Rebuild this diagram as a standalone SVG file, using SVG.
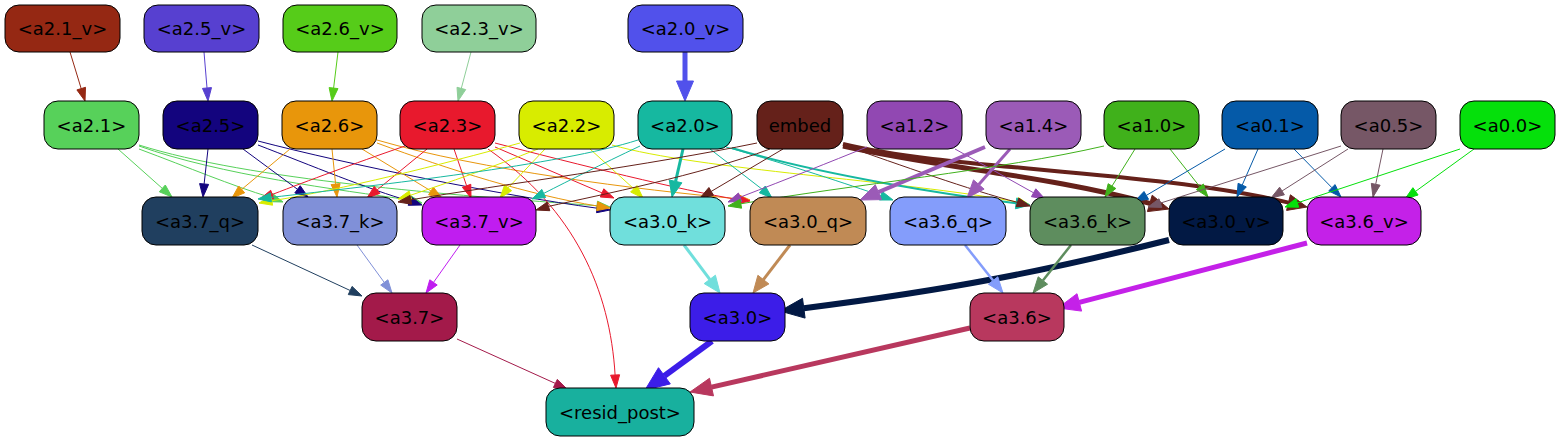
<svg xmlns="http://www.w3.org/2000/svg" width="1561" height="443" viewBox="0 0 1561 443">
<style>
text{font-family:"DejaVu Sans","Liberation Sans",sans-serif;font-size:18px;text-anchor:middle;fill:#000}
.node rect{stroke:#000;stroke-width:1}
#edges path{fill:none}
.c21v{stroke:#952813;fill:#952813}
.c25v{stroke:#5740d0;fill:#5740d0}
.c26v{stroke:#56cc19;fill:#56cc19}
.c23v{stroke:#8fcf99;fill:#8fcf99}
.c20v{stroke:#5151eb;fill:#5151eb}
.c21{stroke:#57d15a;fill:#57d15a}
.c25{stroke:#13047e;fill:#13047e}
.c26{stroke:#e8960b;fill:#e8960b}
.c23{stroke:#e8192d;fill:#e8192d}
.c22{stroke:#d8ec00;fill:#d8ec00}
.c20{stroke:#16b8a0;fill:#16b8a0}
.cem{stroke:#65211a;fill:#65211a}
.c12{stroke:#9148b2;fill:#9148b2}
.c14{stroke:#9b5bb7;fill:#9b5bb7}
.c10{stroke:#40b11b;fill:#40b11b}
.c01{stroke:#055aa8;fill:#055aa8}
.c05{stroke:#765766;fill:#765766}
.c00{stroke:#05e00b;fill:#05e00b}
.c37q{stroke:#203f5f;fill:#203f5f}
.c37k{stroke:#8090d8;fill:#8090d8}
.c37v{stroke:#c01df0;fill:#c01df0}
.c30k{stroke:#70dfdc;fill:#70dfdc}
.c30q{stroke:#c08a55;fill:#c08a55}
.c30v{stroke:#021944;fill:#021944}
.c36q{stroke:#849dfb;fill:#849dfb}
.c36k{stroke:#5e8d5e;fill:#5e8d5e}
.c36v{stroke:#c421e8;fill:#c421e8}
.c37{stroke:#a31a4a;fill:#a31a4a}
.c30{stroke:#3c1de8;fill:#3c1de8}
.c36{stroke:#b8385e;fill:#b8385e}
</style>
<g id="edges" stroke-width="1">
<path class="c21v" d="M70,52 L81.2,88.6"/><polygon class="c21v" points="85,101 85.5,87.3 76.9,89.9"/>
<path class="c25v" d="M204,52 L207,88"/><polygon class="c25v" points="208,101 211.5,87.6 202.5,88.4"/>
<path class="c26v" d="M338,52 L333.6,88.1"/><polygon class="c26v" points="332,101 338,88.6 329.1,87.6"/>
<path class="c23v" d="M471,52 L461.3,88.4"/><polygon class="c23v" points="458,101 465.7,89.6 457,87.3"/>
<path class="c20v" stroke-width="5" d="M685,52 L685,82"/><polygon class="c20v" points="685,101 693.5,81 676.5,81"/>

<path class="c21" d="M118,149 L162.3,188.4"/><polygon class="c21" points="172,197 165.3,185 159.3,191.8"/>
<path class="c21" d="M139,149 C190,168 230,185 270.8,197.5"/><polygon class="c21" points="283,202 272.3,193.3 269.2,201.7"/>
<path class="c21" d="M139,146 C220,175 340,190 409.4,199.9"/><polygon class="c21" points="422,203 410.5,195.5 408.3,204.3"/>
<path class="c21" d="M139,145 C250,180 450,195 597.1,205.7"/><polygon class="c21" points="610,207 597.5,201.2 596.6,210.2"/>

<path class="c25" d="M208,149 L204.1,184"/><polygon class="c25" points="203,197 208.6,184.4 199.6,183.6"/>
<path class="c25" d="M243,149 L297.5,189.3"/><polygon class="c25" points="308,197 300.2,185.7 294.8,192.9"/>
<path class="c25" d="M258,145 C310,165 370,190 409.6,201"/><polygon class="c25" points="422,205 411,196.7 408.2,205.3"/>
<path class="c25" d="M258,141 C350,165 500,195 597.1,208.2"/><polygon class="c25" points="610,210 597.7,203.7 596.5,212.7"/>

<path class="c26" d="M377,143 C450,170 530,195 597.2,206"/><polygon class="c26" points="610,208 597.8,201.7 596.6,210.6"/>
<path class="c26" d="M290,149 L241.7,189.4"/><polygon class="c26" points="232,198 244.7,192.8 238.7,186"/>
<path class="c26" d="M332,149 L335.6,184.1"/><polygon class="c26" points="337,197 340.1,183.6 331.1,184.6"/>
<path class="c26" d="M362,149 L431,191"/><polygon class="c26" points="442,198 433.4,187.2 428.6,194.8"/>
<path class="c26" d="M377,140 C480,170 640,190 737.1,198.7"/><polygon class="c26" points="750,200 737.6,194.2 736.6,203.2"/>

<path class="c23" d="M405,146 C350,165 310,180 272.2,194.5"/><polygon class="c23" points="260,199 273.8,198.7 270.7,190.3"/>
<path class="c23" d="M427,149 L377.1,189.9"/><polygon class="c23" points="367,198 379.9,193.4 374.3,186.4"/>
<path class="c23" d="M454,149 L466.6,185.8"/><polygon class="c23" points="471,198 470.8,184.3 462.4,187.3"/>
<path class="c23" d="M495,147 L602,192.9"/><polygon class="c23" points="614,198 603.8,188.8 600.3,197"/>
<path class="c23" d="M495,143 C580,165 680,190 737.5,199.5"/><polygon class="c23" points="750,201 738.2,195.1 736.8,204"/>
<path class="c23" d="M488,149 C575,210 610,290 615.1,375"/><polygon class="c23" points="616,388 619.6,374.8 610.6,375.2"/>

<path class="c22" d="M520,143 C440,165 340,190 271.8,200.8"/><polygon class="c22" points="259,203 272.6,205.2 271,196.4"/>
<path class="c22" d="M538,149 C490,168 450,182 410.4,195.3"/><polygon class="c22" points="398,199 411.7,199.6 409.1,191"/>
<path class="c22" d="M545,149 L508.1,187.9"/><polygon class="c22" points="500,198 511.6,190.7 504.6,185.1"/>
<path class="c22" d="M590,149 L633.8,188.8"/><polygon class="c22" points="643,198 637,185.6 630.6,192"/>
<path class="c22" d="M612,145 C700,170 900,180 1017.4,202"/><polygon class="c22" points="1030,205 1018.4,197.6 1016.4,206.4"/>

<path class="c20" d="M638,140 C560,165 380,185 270.9,197.4"/><polygon class="c20" points="258,199 271.4,201.9 270.4,192.9"/>
<path class="c20" d="M640,146 C600,165 570,180 543.7,193.4"/><polygon class="c20" points="532,199 545.6,197.5 541.8,189.4"/>
<path class="c20" stroke-width="3" d="M683,149 L675.6,181.4"/><polygon class="c20" points="672,197 681.9,182.8 669.3,180"/>
<path class="c20" d="M710,149 L762.3,189.4"/><polygon class="c20" points="772,198 765.3,186 759.3,192.8"/>
<path class="c20" d="M726,147 C790,165 850,185 880.8,195.7"/><polygon class="c20" points="893,200 882.3,191.5 879.3,200"/>
<path class="c20" stroke-width="2" d="M732,148 C820,175 950,195 1016.1,203.3"/><polygon class="c20" points="1030,205 1016.8,197.9 1015.4,208.8"/>

<path class="cem" d="M757,143 C650,165 500,185 410.8,199.8"/><polygon class="cem" points="398,202 411.6,204.2 410,195.4"/>
<path class="cem" d="M770,149 C700,175 600,195 548.5,206.4"/><polygon class="cem" points="536,210 549.8,210.7 547.2,202.1"/>
<path class="cem" d="M783,149 L711.2,191.4"/><polygon class="cem" points="700,198 713.5,195.3 708.9,187.5"/>
<path class="cem" d="M843,145 C900,165 970,190 1017.5,202.4"/><polygon class="cem" points="1030,206 1018.8,198.1 1016.2,206.7"/>
<path class="cem" stroke-width="5" d="M843,146 C940,168 1050,176 1149.8,203.4"/><polygon class="cem" points="1169,209 1152.2,195.2 1147.4,211.6"/>
<path class="cem" stroke-width="4" d="M843,144 C950,170 1150,170 1288.5,202.6"/><polygon class="cem" points="1307,207 1290.4,194.8 1286.6,210.4"/>

<path class="c12" d="M867,147 C830,162 790,178 740.1,197.2"/><polygon class="c12" points="728,202 741.8,201.4 738.4,193"/>
<path class="c12" d="M955,149 L1033.6,192.8"/><polygon class="c12" points="1045,199 1035.8,188.8 1031.4,196.7"/>
<path class="c14" stroke-width="4" d="M985,147 L878.4,192.2"/><polygon class="c14" points="860,200 881.5,199.6 875.3,184.8"/>
<path class="c14" stroke-width="3" d="M1010,149 L978.8,184.5"/><polygon class="c14" points="967,198 984.1,189.1 973.5,179.9"/>

<path class="c10" d="M1104,146 C1000,170 850,185 740.8,203.8"/><polygon class="c10" points="728,206 741.6,208.2 740,199.4"/>
<path class="c10" d="M1135,149 L1112,186.1"/><polygon class="c10" points="1105,197 1115.8,188.5 1108.2,183.7"/>
<path class="c10" d="M1170,149 L1199.9,186.8"/><polygon class="c10" points="1208,197 1203.4,184 1196.4,189.6"/>

<path class="c01" d="M1225,149 L1146.3,195.4"/><polygon class="c01" points="1135,201 1148.6,199.3 1144,191.5"/>
<path class="c01" d="M1258,149 L1242.2,185.1"/><polygon class="c01" points="1237,197 1246.3,186.9 1238.1,183.3"/>
<path class="c01" d="M1294,149 L1331.9,187.7"/><polygon class="c01" points="1341,197 1335.1,184.6 1328.7,190.9"/>

<path class="c05" d="M1341,146 L1160.4,203.1"/><polygon class="c05" points="1148,207 1161.8,207.4 1159,198.8"/>
<path class="c05" d="M1348,149 L1282,191"/><polygon class="c05" points="1271,198 1284.4,194.8 1279.6,187.2"/>
<path class="c05" d="M1383,149 L1375.7,184.3"/><polygon class="c05" points="1373,197 1380.1,185.2 1371.3,183.4"/>

<path class="c00" d="M1460,149 L1297.3,202.9"/><polygon class="c00" points="1285,207 1298.7,207.2 1295.9,198.6"/>
<path class="c00" d="M1474,149 L1415.5,191.4"/><polygon class="c00" points="1405,199 1418.1,195 1412.9,187.7"/>

<path class="c37q" d="M252,245 L350.2,290.5"/><polygon class="c37q" points="362,296 352.1,286.4 348.3,294.6"/>
<path class="c37k" d="M357,245 L384.3,282.5"/><polygon class="c37k" points="392,293 387.9,279.8 380.7,285.1"/>
<path class="c37v" d="M460,245 L433.5,282.4"/><polygon class="c37v" points="426,293 437.2,285 429.8,279.8"/>
<path class="c30k" stroke-width="3" d="M684,245 L709.8,279.4"/><polygon class="c30k" points="720,293 715.4,275.2 704.2,283.6"/>
<path class="c30q" stroke-width="3" d="M790,245 L763.4,279.6"/><polygon class="c30q" points="753,293 768.9,283.9 757.9,275.3"/>
<path class="c30v" stroke-width="6" d="M1169,240 C1050,270 950,290 803.8,308.2"/><polygon class="c30v" points="780,311 805.1,318.1 802.5,298.3"/>
<path class="c36q" stroke-width="2.5" d="M965,245 L993.1,280.5"/><polygon class="c36q" points="1003,293 997.8,276.8 988.4,284.2"/>
<path class="c36k" stroke-width="2.5" d="M1071,245 L1042.9,280.5"/><polygon class="c36k" points="1033,293 1047.6,284.2 1038.2,276.8"/>
<path class="c36v" stroke-width="5" d="M1307,243 L1079.3,302.4"/><polygon class="c36v" points="1058,308 1081.6,311.1 1077,293.7"/>

<path class="c37" d="M457,339 L555.3,383.4"/><polygon class="c37" points="567,389 557.3,379.4 553.4,387.5"/>
<path class="c30" stroke-width="6" d="M712,341 L664.4,375.8"/><polygon class="c30" points="645,390 670.3,383.9 658.5,367.7"/>
<path class="c36" stroke-width="5" d="M970,328 L711.5,387.1"/><polygon class="c36" points="690,392 713.5,395.9 709.5,378.3"/>
</g>

<g id="a2.1_v" class="node"><rect x="5" y="5" width="115" height="47" rx="14" fill="#952813"/><text x="62.5" y="35">&lt;a2.1_v&gt;</text></g>
<g id="a2.5_v" class="node"><rect x="144" y="5" width="115" height="47" rx="14" fill="#5740d0"/><text x="201.5" y="35">&lt;a2.5_v&gt;</text></g>
<g id="a2.6_v" class="node"><rect x="283" y="5" width="114" height="47" rx="14" fill="#56cc19"/><text x="340" y="35">&lt;a2.6_v&gt;</text></g>
<g id="a2.3_v" class="node"><rect x="422" y="5" width="114" height="47" rx="14" fill="#8fcf99"/><text x="479" y="35">&lt;a2.3_v&gt;</text></g>
<g id="a2.0_v" class="node"><rect x="628" y="5" width="115" height="47" rx="14" fill="#5151eb"/><text x="685.5" y="35">&lt;a2.0_v&gt;</text></g>

<g id="a2.1" class="node"><rect x="44" y="101" width="95" height="48" rx="14" fill="#57d15a"/><text x="91.5" y="131.5">&lt;a2.1&gt;</text></g>
<g id="a2.5" class="node"><rect x="163" y="101" width="95" height="48" rx="14" fill="#13047e"/><text x="210.5" y="131.5">&lt;a2.5&gt;</text></g>
<g id="a2.6" class="node"><rect x="282" y="101" width="95" height="48" rx="14" fill="#e8960b"/><text x="329.5" y="131.5">&lt;a2.6&gt;</text></g>
<g id="a2.3" class="node"><rect x="400" y="101" width="95" height="48" rx="14" fill="#e8192d"/><text x="447.5" y="131.5">&lt;a2.3&gt;</text></g>
<g id="a2.2" class="node"><rect x="519" y="101" width="95" height="48" rx="14" fill="#d8ec00"/><text x="566.5" y="131.5">&lt;a2.2&gt;</text></g>
<g id="a2.0" class="node"><rect x="638" y="101" width="94" height="48" rx="14" fill="#16b8a0"/><text x="685" y="131.5">&lt;a2.0&gt;</text></g>
<g id="embed" class="node"><rect x="757" y="101" width="86" height="48" rx="14" fill="#65211a"/><text x="800" y="131.5">embed</text></g>
<g id="a1.2" class="node"><rect x="867" y="101" width="95" height="48" rx="14" fill="#9148b2"/><text x="914.5" y="131.5">&lt;a1.2&gt;</text></g>
<g id="a1.4" class="node"><rect x="986" y="101" width="95" height="48" rx="14" fill="#9b5bb7"/><text x="1033.5" y="131.5">&lt;a1.4&gt;</text></g>
<g id="a1.0" class="node"><rect x="1104" y="101" width="95" height="48" rx="14" fill="#40b11b"/><text x="1151.5" y="131.5">&lt;a1.0&gt;</text></g>
<g id="a0.1" class="node"><rect x="1222" y="101" width="96" height="48" rx="14" fill="#055aa8"/><text x="1270" y="131.5">&lt;a0.1&gt;</text></g>
<g id="a0.5" class="node"><rect x="1341" y="101" width="95" height="48" rx="14" fill="#765766"/><text x="1388.5" y="131.5">&lt;a0.5&gt;</text></g>
<g id="a0.0" class="node"><rect x="1460" y="101" width="95" height="48" rx="14" fill="#05e00b"/><text x="1507.5" y="131.5">&lt;a0.0&gt;</text></g>

<g id="a3.7_q" class="node"><rect x="142" y="197" width="116" height="48" rx="14" fill="#203f5f"/><text x="200" y="227.5">&lt;a3.7_q&gt;</text></g>
<g id="a3.7_k" class="node"><rect x="283" y="197" width="114" height="48" rx="14" fill="#8090d8"/><text x="340" y="227.5">&lt;a3.7_k&gt;</text></g>
<g id="a3.7_v" class="node"><rect x="422" y="197" width="114" height="48" rx="14" fill="#c01df0"/><text x="479" y="227.5">&lt;a3.7_v&gt;</text></g>
<g id="a3.0_k" class="node"><rect x="610" y="197" width="115" height="48" rx="14" fill="#70dfdc"/><text x="667.5" y="227.5">&lt;a3.0_k&gt;</text></g>
<g id="a3.0_q" class="node"><rect x="750" y="197" width="116" height="48" rx="14" fill="#c08a55"/><text x="808" y="227.5">&lt;a3.0_q&gt;</text></g>
<g id="a3.6_q" class="node"><rect x="890" y="197" width="116" height="48" rx="14" fill="#849dfb"/><text x="948" y="227.5">&lt;a3.6_q&gt;</text></g>
<g id="a3.6_k" class="node"><rect x="1030" y="197" width="115" height="48" rx="14" fill="#5e8d5e"/><text x="1087.5" y="227.5">&lt;a3.6_k&gt;</text></g>
<g id="a3.0_v" class="node"><rect x="1169" y="197" width="114" height="48" rx="14" fill="#021944"/><text x="1226" y="227.5">&lt;a3.0_v&gt;</text></g>
<g id="a3.6_v" class="node"><rect x="1307" y="197" width="114" height="48" rx="14" fill="#c421e8"/><text x="1364" y="227.5">&lt;a3.6_v&gt;</text></g>

<g id="a3.7" class="node"><rect x="362" y="293" width="95" height="48" rx="14" fill="#a31a4a"/><text x="409.5" y="323.5">&lt;a3.7&gt;</text></g>
<g id="a3.0" class="node"><rect x="690" y="293" width="95" height="48" rx="14" fill="#3c1de8"/><text x="737.5" y="323.5">&lt;a3.0&gt;</text></g>
<g id="a3.6" class="node"><rect x="970" y="293" width="94" height="48" rx="14" fill="#b8385e"/><text x="1017" y="323.5">&lt;a3.6&gt;</text></g>

<g id="resid_post" class="node"><rect x="546" y="388" width="148" height="48" rx="14" fill="#18b09e"/><text x="620" y="418.5">&lt;resid_post&gt;</text></g>
</svg>
